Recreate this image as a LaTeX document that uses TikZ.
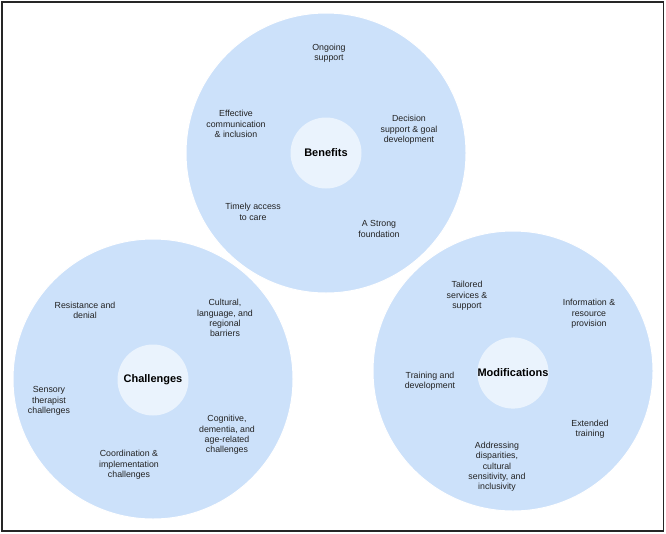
\documentclass[tikz,border=0pt]{standalone}
\usepackage{fontspec}
\setmainfont{Liberation Sans}
\usepackage{tikz}

\definecolor{ringblue}{HTML}{CCE1FA}
\definecolor{hubblue}{HTML}{EAF3FD}
\definecolor{textgray}{HTML}{222222}

\begin{document}
\begin{tikzpicture}[
  x=1pt, y=-1pt,
  ring/.style={circle, fill=ringblue, draw=white, line width=1pt, minimum size=280pt, inner sep=0pt},
  hub/.style={circle, fill=hubblue, minimum size=71pt, inner sep=0pt, font=\fontsize{11}{13}\selectfont\bfseries, text=black},
  item/.style={align=center, text=textgray, font=\fontsize{8.8}{10.3}\selectfont, inner sep=0pt}
]

\useasboundingbox (0,0) rectangle (666,533);

% --- Outer frame ---
\draw[line width=1.2pt, draw=black!85] (2,2) rectangle (663.5,531);

% --- Three big circles ---
\node[ring] (benring) at (326,153) {};
\node[ring] (chalring) at (153,379) {};
\node[ring] (modring) at (513,371) {};

% --- Hubs ---
\node[hub] (benefits) at (326,153) {Benefits};
\node[hub] (challenges) at (153,380) {Challenges};
\node[hub] (modifications) at (513,373) {Modifications};

% --- Benefits items ---
\node[item] (ongoing) at (329,53) {Ongoing\\support};
\node[item] (effective) at (236,124) {Effective\\communication\\\& inclusion};
\node[item] (decision) at (409,130) {Decision\\support \& goal\\development};
\node[item] (timely) at (253,212) {Timely access\\to care};
\node[item] (strong) at (379,229) {A Strong\\foundation};

% --- Challenges items ---
\node[item] (resistance) at (85,310) {Resistance and\\denial};
\node[item] (cultural) at (225,318) {Cultural,\\language, and\\regional\\barriers};
\node[item] (sensory) at (49,401) {Sensory\\therapist\\challenges};
\node[item] (cognitive) at (227,435) {Cognitive,\\dementia, and\\age-related\\challenges};
\node[item] (coordination) at (129,465) {Coordination \&\\implementation\\challenges};

% --- Modifications items ---
\node[item] (tailored) at (467,296) {Tailored\\services \&\\support};
\node[item] (information) at (589,314) {Information \&\\resource\\provision};
\node[item] (training) at (430,381) {Training and\\development};
\node[item] (extended) at (590,429) {Extended\\training};
\node[item] (addressing) at (497,467) {Addressing\\disparities,\\cultural\\sensitivity, and\\inclusivity};

\end{tikzpicture}
\end{document}
